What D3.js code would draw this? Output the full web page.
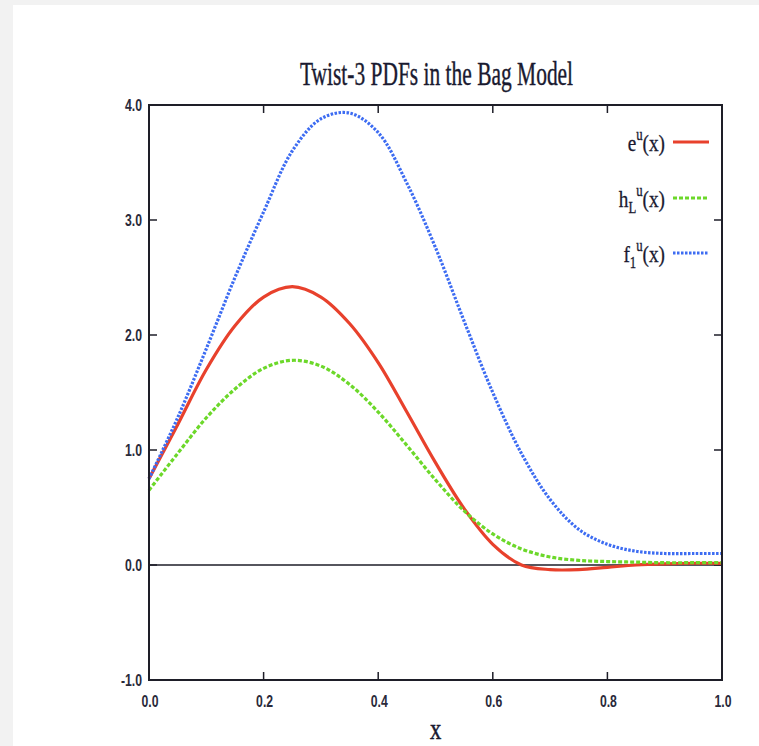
<!DOCTYPE html>
<html><head><meta charset="utf-8">
<script src="https://cdn.jsdelivr.net/npm/d3@7"></script>
<style>html,body{margin:0;padding:0;background:#f2f2f2;}svg{display:block;}</style>
</head><body>
<svg id="chart" width="759" height="746"></svg>
<script>
// ---- data ----
const xs  = [0.00,0.05,0.10,0.15,0.20,0.25,0.30,0.35,0.40,0.45,0.50,0.55,0.60,0.65,0.70,0.75,0.80,0.85,0.90,0.95,1.00];
const eU  = [0.75,1.22,1.70,2.08,2.33,2.42,2.33,2.10,1.76,1.33,0.89,0.49,0.18,0.00,-0.04,-0.04,-0.02,0.00,0.01,0.015,0.015];
const hLU = [0.65,0.97,1.28,1.53,1.71,1.78,1.73,1.57,1.33,1.04,0.74,0.47,0.27,0.14,0.07,0.04,0.03,0.025,0.02,0.02,0.02];
const f1U = [0.75,1.28,1.88,2.50,3.07,3.60,3.88,3.93,3.76,3.32,2.76,2.12,1.50,0.97,0.57,0.31,0.18,0.12,0.10,0.10,0.10];
const xTicks = [0.0,0.2,0.4,0.6,0.8,1.0];
const xTickLabels = ["0.0","0.2","0.4","0.6","0.8","1.0"];
const yTicks = [-1,0,1,2,3,4];
const yTickLabels = ["-1.0","0.0","1.0","2.0","3.0","4.0"];
const title = "Twist-3 PDFs in the Bag Model";
const xLabel = "x";

const series = [
  {name:"e", sub:"", vals:eU, color:"#e8412c", dash:null},
  {name:"h", sub:"L", vals:hLU, color:"#6cd82a", dash:"4,2"},
  {name:"f", sub:"1", vals:f1U, color:"#3d6cf2", dash:"2.5,1.5"}
];

// ---- layout ----
const svg = d3.select("#chart");
svg.append("rect").attr("x",13).attr("y",5).attr("width",759-13).attr("height",746-5).attr("fill","#ffffff");
const L=149, R=722, T=105, B=680;
const x = d3.scaleLinear().domain([0,1]).range([L,R]);
const y = d3.scaleLinear().domain([-1,4]).range([B,T]);
const ink="#1e1e28";
const sans="Liberation Sans, Arial, sans-serif";
const serif="Liberation Serif, Times New Roman, serif";

// zero line
svg.append("line").attr("x1",L).attr("x2",R).attr("y1",y(0)).attr("y2",y(0)).attr("stroke",ink).attr("stroke-width",1.5);

// ticks (inward, all four sides)
const tl=8;
xTicks.forEach((t,i)=>{
  svg.append("line").attr("x1",x(t)).attr("x2",x(t)).attr("y1",B).attr("y2",B-tl).attr("stroke",ink).attr("stroke-width",1.5);
  svg.append("line").attr("x1",x(t)).attr("x2",x(t)).attr("y1",T).attr("y2",T+tl).attr("stroke",ink).attr("stroke-width",1.5);
  svg.append("text").attr("transform",`translate(${x(t)+1},${B+27}) scale(0.72,1)`)
    .attr("text-anchor","middle").attr("font-family",sans).attr("font-size",17).attr("font-weight","bold")
    .attr("fill","#2a2a3a").text(xTickLabels[i]);
});
yTicks.forEach((t,i)=>{
  svg.append("line").attr("x1",L).attr("x2",L+tl).attr("y1",y(t)).attr("y2",y(t)).attr("stroke",ink).attr("stroke-width",1.5);
  svg.append("line").attr("x1",R).attr("x2",R-tl).attr("y1",y(t)).attr("y2",y(t)).attr("stroke",ink).attr("stroke-width",1.5);
  svg.append("text").attr("transform",`translate(${L-7},${y(t)+6}) scale(0.72,1)`)
    .attr("text-anchor","end").attr("font-family",sans).attr("font-size",17).attr("font-weight","bold")
    .attr("fill","#2a2a3a").text(yTickLabels[i]);
});

// curves
const line = d3.line().x(d=>x(d[0])).y(d=>y(d[1])).curve(d3.curveCatmullRom.alpha(0.5));
series.forEach(s=>{
  const p = svg.append("path").datum(xs.map((v,i)=>[v,s.vals[i]]))
    .attr("d",line).attr("fill","none").attr("stroke",s.color).attr("stroke-width",3.2);
  if(s.dash) p.attr("stroke-dasharray",s.dash);
});

// frame
svg.append("rect").attr("x",L).attr("y",T).attr("width",R-L).attr("height",B-T)
  .attr("fill","none").attr("stroke",ink).attr("stroke-width",2);

// title
svg.append("text").attr("transform",`translate(${(L+R)/2+1},85) scale(0.65,1)`)
  .attr("text-anchor","middle").attr("font-family",serif).attr("font-size",33)
  .attr("fill","#1a1a30").attr("stroke","#1a1a30").attr("stroke-width",0.4).text(title);
// x label
svg.append("text").attr("transform",`translate(${(L+R)/2},739) scale(0.75,1)`)
  .attr("text-anchor","middle").attr("font-family",serif).attr("font-size",30)
  .attr("fill","#1a1a30").attr("stroke","#1a1a30").attr("stroke-width",0.5).text(xLabel);

// legend
const legY=[142,198,253];
series.forEach((s,i)=>{
  const ly=legY[i];
  svg.append("line").attr("x1",673).attr("x2",709).attr("y1",ly).attr("y2",ly)
    .attr("stroke",s.color).attr("stroke-width",3.2).attr("stroke-dasharray",s.dash);
  const t = svg.append("text").attr("transform",`translate(665,${ly+9}) scale(0.8,1)`)
    .attr("text-anchor","end").attr("font-family",serif).attr("font-size",24)
    .attr("fill","#1a1a30").attr("stroke","#1a1a30").attr("stroke-width",0.3);
  t.append("tspan").text(s.name);
  if(s.sub){
    t.append("tspan").attr("font-size",16).attr("dy",6).text(s.sub);
    t.append("tspan").attr("font-size",16).attr("dy",-17).text("u");
    t.append("tspan").attr("dy",11).text("(x)");
  } else {
    t.append("tspan").attr("font-size",16).attr("dy",-11).text("u");
    t.append("tspan").attr("dy",11).text("(x)");
  }
});
</script>
</body></html>
